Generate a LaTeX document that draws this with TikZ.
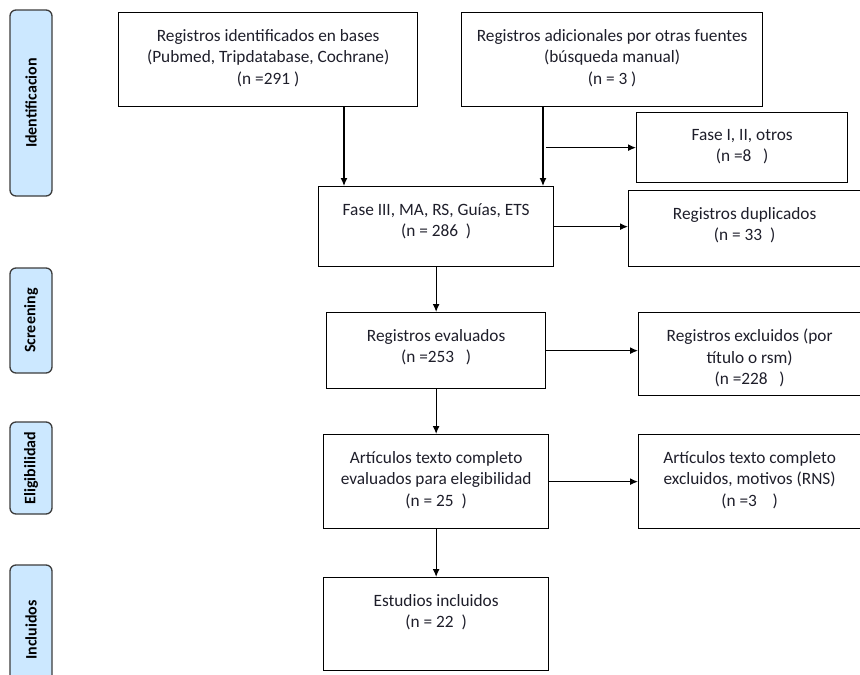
\documentclass[tikz,border=0pt]{standalone}
\usepackage{fontspec}
\setmainfont{Carlito}
\usetikzlibrary{arrows.meta}

\definecolor{phasefill}{HTML}{CCE8FF}
\definecolor{phasedraw}{HTML}{3C3C3C}
\definecolor{boxtextcol}{HTML}{1E1E2A}

\tikzset{
  box/.style={draw, line width=1.3pt, inner sep=0pt, anchor=north west},
  boxtext/.style={anchor=north, align=center, inner sep=0pt, yshift=-17pt,
    text=boxtextcol, font=\fontsize{17.3}{21.5}\selectfont},
  phase/.style={draw=phasedraw, fill=phasefill, line width=1.3pt, rounded corners=6pt,
    rotate=90, inner sep=0pt, minimum height=42pt,
    font=\fontsize{16}{18}\selectfont\bfseries},
  arr/.style={-{Latex[length=8pt,width=7pt]}, line width=1.3pt},
}

\begin{document}
\begin{tikzpicture}[x=1pt,y=-1pt]
    \useasboundingbox (0,0) rectangle (860,675);
    \clip (0,0) rectangle (860,675);

    % Phases
    \node[phase, minimum width=186pt] (ident) at (31,103) {Identificacion};
    \node[phase, minimum width=105pt] (screen) at (31,320.5) {Screening};
    \node[phase, minimum width=92pt] (eleg) at (31,468) {Eligibilidad};
    \node[phase, minimum width=130pt] (incl) at (31,630) {Incluidos};

    % Identification
    \node[box, minimum width=299pt, minimum height=94pt,
      label={[boxtext]north:{Registros identificados en bases\\(Pubmed, Tripdatabase, Cochrane)\\(n =291 )}}]
      (regbase) at (118,12) {};
    \node[box, minimum width=301pt, minimum height=94pt,
      label={[boxtext]north:{Registros adicionales por otras fuentes\\(búsqueda manual)\\(n = 3 )}}]
      (regadic) at (461,12) {};
    \node[box, minimum width=211pt, minimum height=70pt,
      label={[boxtext]north:{Fase I, II, otros\\(n =8~~~)}}]
      (faseotros) at (636,112) {};
    \node[box, minimum width=235pt, minimum height=80pt,
      label={[boxtext]north:{Fase III, MA, RS, Guías, ETS\\(n = 286~~)}}]
      (fase3) at (318,186) {};
    \node[box, minimum width=232pt, minimum height=76pt,
      label={[boxtext]north:{Registros duplicados\\(n = 33~~)}}]
      (dup) at (628,190) {};

    % Screening
    \node[box, minimum width=219pt, minimum height=76pt,
      label={[boxtext]north:{Registros evaluados\\(n =253~~~)}}]
      (evaluados) at (326,312) {};
    \node[box, minimum width=222pt, minimum height=83pt,
      label={[boxtext]north:{Registros excluidos (por\\título o rsm)\\(n =228~~~)}}]
      (excluidos) at (638,312) {};

    % Eligibility
    \node[box, minimum width=225pt, minimum height=94pt,
      label={[boxtext]north:{Artículos texto completo\\evaluados para elegibilidad\\(n = 25~~)}}]
      (textoeval) at (323,434) {};
    \node[box, minimum width=222pt, minimum height=94pt,
      label={[boxtext]north:{Artículos texto completo\\excluidos, motivos (RNS)\\(n =3~~~~)}}]
      (textoexcl) at (638,434) {};

    % Included
    \node[box, minimum width=225pt, minimum height=93pt,
      label={[boxtext]north:{Estudios incluidos\\(n = 22~~)}}]
      (incluidos) at (323,577) {};

    % Connectors
    \coordinate (ax) at (344,0);
    \coordinate (bx) at (543,0);
    \draw[arr] (ax |- regbase.south) -- (ax |- fase3.north);
    \draw[arr] (bx |- regadic.south) -- (bx |- fase3.north);
    \draw[arr] ([xshift=3pt]bx |- faseotros.west) -- (faseotros.west);
    \draw[arr] (fase3.east) -- (fase3.east -| dup.west);
    \draw[arr] (fase3.south) -- (fase3.south |- evaluados.north);
    \draw[arr] (evaluados.east) -- (evaluados.east -| excluidos.west);
    \draw[arr] (evaluados.south) -- (evaluados.south |- textoeval.north);
    \draw[arr] (textoeval.east) -- (textoeval.east -| textoexcl.west);
    \draw[arr] (textoeval.south) -- (textoeval.south |- incluidos.north);
\end{tikzpicture}
\end{document}
